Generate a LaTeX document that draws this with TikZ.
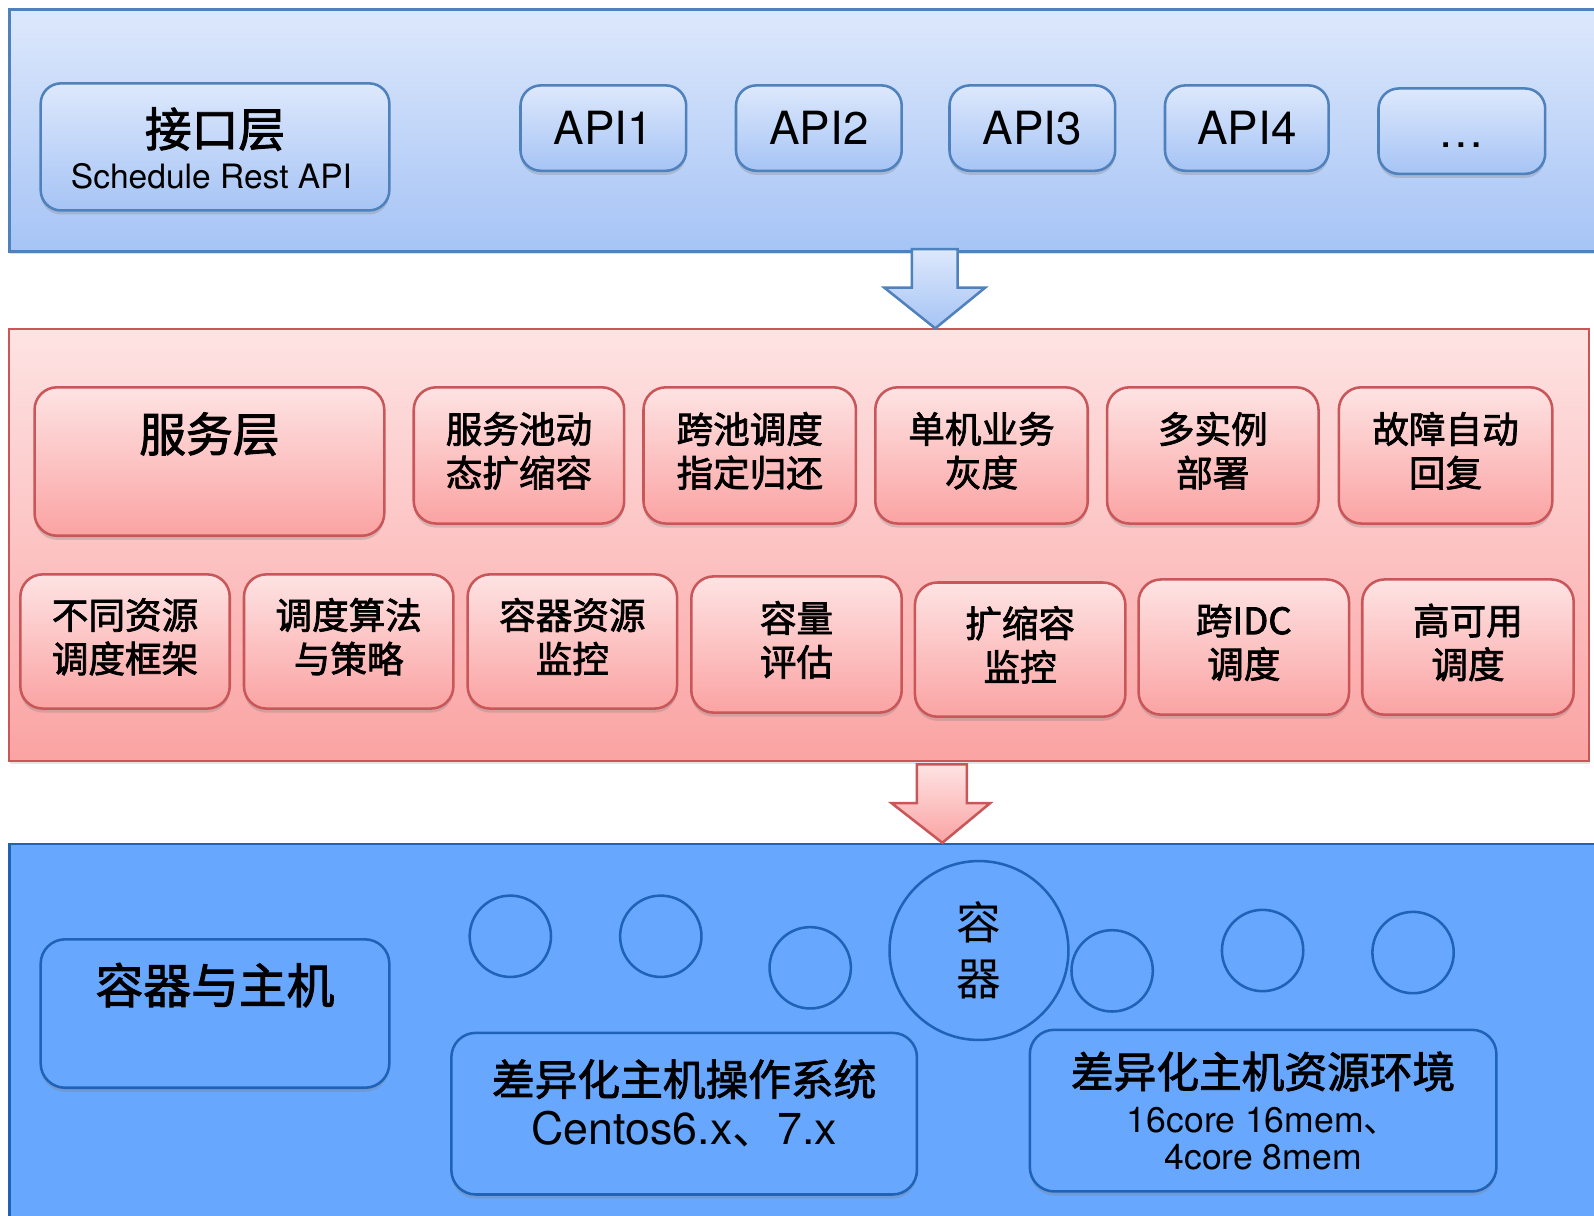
\documentclass[tikz,border=0pt]{standalone}
\usepackage{fontspec}
\setmainfont{TeX Gyre Heros}
\newfontfamily\cjkf{Noto Sans CJK SC}
\newfontfamily\cjkm[FakeBold=2]{Noto Sans CJK SC}
\newcommand\cjk{\cjkm}
\usetikzlibrary{shadows}
\definecolor{bluetop}{HTML}{DDE8FC}
\definecolor{bluebot}{HTML}{A6C4F5}
\definecolor{blueline}{HTML}{4F81BD}
\definecolor{redtop}{HTML}{FEE3E3}
\definecolor{redbot}{HTML}{FBA3A3}
\definecolor{redline}{HTML}{C9575A}
\definecolor{deepfill}{HTML}{67A7FD}
\definecolor{deepline}{HTML}{1F63B7}
\begin{document}
\begin{tikzpicture}[x=1pt,y=-1pt,
  shd/.style={drop shadow={opacity=0.3, shadow xshift=0pt, shadow yshift=-4pt}},
  bluepanel/.style={draw=blueline, line width=2.5pt, top color=bluetop, bottom color=bluebot, inner sep=0pt, drop shadow={opacity=0.25, shadow xshift=1pt, shadow yshift=-3pt}},
  redpanel/.style={draw=redline, line width=2pt, top color=redtop, bottom color=redbot, inner sep=0pt, drop shadow={opacity=0.2, shadow xshift=1pt, shadow yshift=-3pt}},
  deeppanel/.style={draw=deepline, line width=2.5pt, fill=deepfill, inner sep=0pt},
  bluebox/.style={draw=blueline, line width=2.5pt, rounded corners=20pt, top color=bluetop, bottom color=bluebot, inner sep=0pt, shd},
  redbox/.style={draw=redline, line width=2.5pt, rounded corners=22pt, top color=redtop, bottom color=redbot, inner sep=0pt, shd, align=center, text depth=12pt, font=\cjk\fontsize{36}{43}\selectfont},
  deepbox/.style={draw=deepline, line width=2.5pt, rounded corners=24pt, fill=deepfill, inner sep=0pt, shd},
  cont/.style={circle, draw=deepline, line width=2.5pt, fill=deepfill, inner sep=0pt},
  apifont/.style={font=\fontsize{45}{50}\selectfont},
  bigcjk/.style={font=\cjk\fontsize{46}{50}\selectfont},
]
\useasboundingbox (0,0) rectangle (1568,1196);
\fill[white] (0,0) rectangle (1568,1196);

% ---------- top panel ----------
\node[bluepanel, anchor=north west, minimum width=1600pt, minimum height=238pt] (top) at (8,8) {};
\node[bluebox, minimum width=343pt, minimum height=125pt] (iface) at (211.5,144.5) {};
\node[bigcjk] (ifacet) at (211.5,127) {接口层};
\node[font=\fontsize{33}{36}\selectfont] (ifaces) at (208,173) {Schedule Rest API};
\node[bluebox, apifont, minimum width=163pt, minimum height=84pt] (api1) at (593.5,126) {API1};
\node[bluebox, apifont, minimum width=163pt, minimum height=84pt] (api2) at (805.5,126) {API2};
\node[bluebox, apifont, minimum width=163pt, minimum height=84pt] (api3) at (1015.5,126) {API3};
\node[bluebox, apifont, minimum width=161pt, minimum height=84pt] (api4) at (1226.5,126) {API4};
\node[bluebox, apifont, minimum width=164pt, minimum height=84pt, text height=32pt, text depth=0pt] (apim) at (1438,129) {…};

% ---------- middle panel ----------
\node[redpanel, anchor=north west, minimum width=1554pt, minimum height=425pt] (mid) at (8,323) {};

% arrow 1
\draw[draw=blueline, line width=2.5pt, line join=miter, top color=bluetop, bottom color=bluebot]
  (897,245) -- (942,245) -- (942,283) -- (969,283) -- (920,323) -- (870,283) -- (897,283) -- cycle;

\node[redbox, minimum width=344pt, minimum height=146pt] (svc) at (206,454) {};
\node[bigcjk] (svct) at (206,427) {服务层};
\node[redbox, minimum width=207pt, minimum height=134pt] (b1) at (510.5,448) {服务池动\\态扩缩容};
\node[redbox, minimum width=209pt, minimum height=134pt] (b2) at (737.5,448) {跨池调度\\指定归还};
\node[redbox, minimum width=209pt, minimum height=134pt] (b3) at (965.5,448) {单机业务\\灰度};
\node[redbox, minimum width=208pt, minimum height=134pt] (b4) at (1193,448) {多实例\\部署};
\node[redbox, minimum width=210pt, minimum height=134pt] (b5) at (1422,448) {故障自动\\回复};

\node[redbox, minimum width=206pt, minimum height=132pt] (r1) at (123,631) {不同资源\\调度框架};
\node[redbox, minimum width=206pt, minimum height=132pt] (r2) at (343,631) {调度算法\\与策略};
\node[redbox, minimum width=206pt, minimum height=132pt] (r3) at (563,631) {容器资源\\监控};
\node[redbox, minimum width=207pt, minimum height=134pt] (r4) at (783.5,634) {容量\\评估};
\node[redbox, minimum width=207pt, minimum height=132pt] (r5) at (1003.5,639) {扩缩容\\监控};
\node[redbox, minimum width=207pt, minimum height=133pt] (r6) at (1223.5,636.5) {跨IDC\\调度};
\node[redbox, minimum width=208pt, minimum height=133pt] (r7) at (1444,636.5) {高可用\\调度};

% ---------- bottom panel ----------
\node[deeppanel, anchor=north west, minimum width=1600pt, minimum height=400pt] (bot) at (8,829) {};

% arrow 2
\draw[draw=redline, line width=2.5pt, line join=miter, top color=redtop, bottom color=redbot]
  (902,752) -- (951,752) -- (951,790) -- (974,790) -- (927,829) -- (877,790) -- (902,790) -- cycle;

\node[deepbox, minimum width=343pt, minimum height=146pt] (host) at (211.5,997) {};
\node[font=\cjk\fontsize{47}{50}\selectfont] (hostt) at (211.5,969) {容器与主机};

\node[cont, minimum size=80pt] (c1) at (502,921) {};
\node[cont, minimum size=80pt] (c2) at (650,921) {};
\node[cont, minimum size=80pt] (c3) at (797,952) {};
\node[cont, minimum size=176pt, align=center, font=\cjkf\fontsize{44}{55}\selectfont] (big) at (963,935) {容\\器};
\node[cont, minimum size=80pt] (c4) at (1094,955) {};
\node[cont, minimum size=80pt] (c5) at (1242,935) {};
\node[cont, minimum size=80pt] (c6) at (1390,937) {};

\node[deepbox, minimum width=458pt, minimum height=159pt] (os) at (673,1095.5) {};
\node[align=center, font=\fontsize{44}{48}\selectfont] (ost) at (673,1085)
  {{\cjk\fontsize{42}{48}\selectfont 差异化主机操作系统}\\Centos6.x{\cjkf 、}7.x};

\node[deepbox, minimum width=459pt, minimum height=159pt, align=center, font=\fontsize{35}{36}\selectfont] (env) at (1242.5,1092.5)
  {{\cjk\fontsize{42}{44}\selectfont 差异化主机资源环境}\\[8pt]16core 16mem{\cjkf 、}\\4core 8mem};
\end{tikzpicture}
\end{document}
